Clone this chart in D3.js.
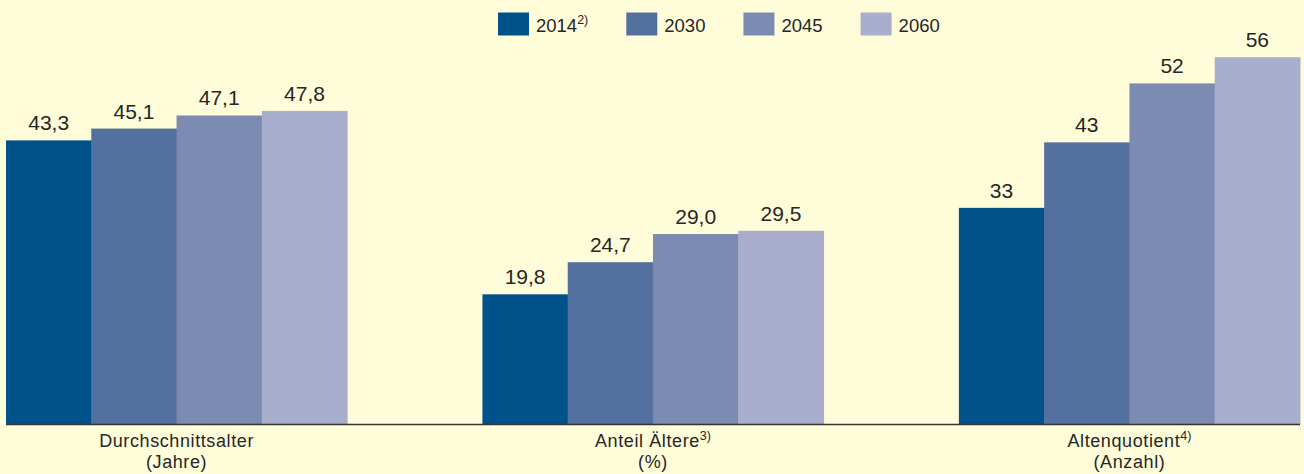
<!DOCTYPE html>
<meta charset="utf-8">
<style>
  body { margin: 0; background: #fffcd9; }
  text { font-family: "Liberation Sans", Arial, sans-serif; fill: #262626; }
</style>
<body>
<script src="https://cdn.jsdelivr.net/npm/d3@7"></script>
<script>

var width = 1304,
    height = 474;

// data
var categories = ["Durchschnittsalter", "Anteil Ältere", "Altenquotient"];
var catSup = ["", "3)", "4)"];
var catUnits = ["(Jahre)", "(%)", "(Anzahl)"];
var years = ["2014", "2030", "2045", "2060"];
var yearSup = ["2)", "", "", ""];
var colors = ["#00538a", "#53709e", "#7c8bb2", "#a8aecb"];
var values2014 = [43.3, 19.8, 33];
var values2030 = [45.1, 24.7, 43];
var values2045 = [47.1, 29.0, 52];
var values2060 = [47.8, 29.5, 56];
var labels = [
  ["43,3", "45,1", "47,1", "47,8"],
  ["19,8", "24,7", "29,0", "29,5"],
  ["33", "43", "52", "56"]
];
var series = [values2014, values2030, values2045, values2060];

var svg = d3.select("body").append("svg")
    .attr("width", width)
    .attr("height", height);

svg.append("rect").attr("width", width).attr("height", height).attr("fill", "#fffcd9");

var x0 = d3.scaleBand()
    .domain(categories)
    .range([6, 1300])
    .paddingInner(0.284);

var x1 = d3.scaleBand()
    .domain(years)
    .range([0, x0.bandwidth()]);

var y = d3.scaleLinear()
    .domain([0, 60])
    .range([424, 31]);

var group = svg.selectAll("g.cat")
    .data(categories)
    .enter()
    .append("g")
    .attr("class", "cat")
    .attr("transform", function(d) { return "translate(" + x0(d) + ",0)"; });

group.each(function(c, ci) {
  var g = d3.select(this);
  years.forEach(function(yr, si) {
    var v = series[si][ci];
    g.append("rect")
      .attr("x", x1(yr))
      .attr("y", y(v))
      .attr("width", x1.bandwidth() + 0.5)
      .attr("height", y(0) - y(v))
      .attr("fill", colors[si]);
    g.append("text")
      .attr("x", x1(yr) + x1.bandwidth() / 2)
      .attr("y", y(v) - 10)
      .attr("text-anchor", "middle")
      .style("font-size", "21px")
      .text(labels[ci][si]);
  });
});

// baseline
svg.append("line")
  .attr("x1", 6).attr("x2", 1300)
  .attr("y1", y(0) + 0.5).attr("y2", y(0) + 0.5)
  .attr("stroke", "#333")
  .attr("stroke-width", 1.3);

// category labels
categories.forEach(function(c, i) {
  var cx = x0(c) + x0.bandwidth() / 2;
  var t = svg.append("text")
    .attr("x", cx)
    .attr("y", 447)
    .attr("text-anchor", "middle")
    .style("font-size", "18px")
    .style("letter-spacing", "0.6px");
  t.append("tspan").text(c);
  if (catSup[i]) {
    t.append("tspan").attr("dy", -7).style("font-size", "12.5px").style("letter-spacing", "0").text(catSup[i]);
  }
  svg.append("text")
    .attr("x", cx)
    .attr("y", 468)
    .attr("text-anchor", "middle")
    .style("font-size", "18px")
    .style("letter-spacing", "0.6px")
    .text(catUnits[i]);
});

// legend
var lx = 498;
years.forEach(function(yr, i) {
  svg.append("rect")
    .attr("x", lx).attr("y", 12.5)
    .attr("width", 31).attr("height", 23)
    .attr("fill", colors[i]);
  var t = svg.append("text")
    .attr("x", lx + 38)
    .attr("y", 32)
    .style("font-size", "18.5px");
  t.append("tspan").text(yr);
  if (yearSup[i]) {
    t.append("tspan").attr("dy", -8).style("font-size", "12.5px").text(yearSup[i]);
  }
  lx += 38 + t.node().getComputedTextLength() + 38;
});

</script>
</body>
